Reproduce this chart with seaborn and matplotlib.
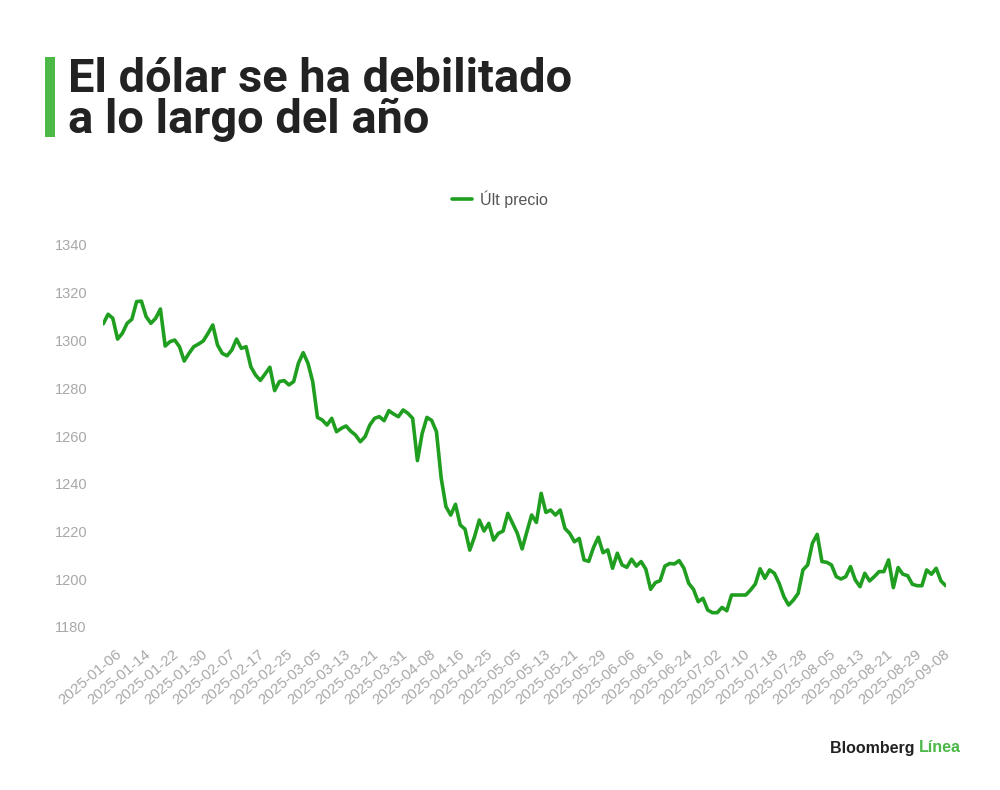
import matplotlib
matplotlib.use("Agg")
import matplotlib.pyplot as plt
import matplotlib.transforms as mtransforms
from matplotlib.patches import Rectangle
import seaborn as sns
import numpy as np
import pandas as pd

# === Data ===
title_lines = ["El dólar se ha debilitado", "a lo largo del año"]
series_name = "Últ precio"

# business days Jan 6 - Sep 11 2025, Good Friday missing
dates = pd.bdate_range("2025-01-06", "2025-09-11")
dates = dates[dates != pd.Timestamp("2025-04-18")]

prices = [
    1307.0, 1311.0, 1309.3, 1300.6, 1303.0, 1307.2, 1308.9, 1316.3, 1316.5, 1310.0,
    1307.2, 1309.3, 1313.2, 1297.7, 1299.5, 1300.2, 1297.4, 1291.4, 1294.6, 1297.4,
    1298.5, 1299.8, 1303.0, 1306.5, 1298.1, 1294.6, 1293.6, 1296.0, 1300.6, 1296.7,
    1297.4, 1289.0, 1285.5, 1283.3, 1286.0, 1288.8, 1279.0, 1282.8, 1283.2, 1281.4,
    1282.8, 1290.5, 1294.9, 1290.5, 1282.8, 1267.8, 1266.7, 1264.6, 1267.4, 1261.8,
    1263.2, 1264.2, 1262.0, 1260.4, 1257.6, 1259.7, 1264.6, 1267.4, 1268.1, 1266.4,
    1270.6, 1269.2, 1268.1, 1270.9, 1269.5, 1267.4, 1249.7, 1261.1, 1267.8, 1266.5,
    1261.8, 1242.3, 1230.4, 1226.9, 1231.4, 1222.7, 1221.0, 1212.2, 1217.8, 1224.8,
    1220.2, 1223.4, 1216.4, 1219.2, 1220.2, 1227.6, 1223.4, 1219.2, 1212.7, 1219.9,
    1226.9, 1223.8, 1236.0, 1228.0, 1229.0, 1226.9, 1229.0, 1221.3, 1219.2, 1215.7,
    1217.1, 1208.1, 1207.5, 1213.3, 1217.6, 1211.1, 1212.3, 1204.6, 1210.9, 1206.0,
    1205.0, 1208.4, 1205.5, 1207.4, 1204.2, 1195.8, 1198.6, 1199.4, 1205.5, 1206.6,
    1206.4, 1207.8, 1204.6, 1198.3, 1195.8, 1190.6, 1192.0, 1187.1, 1186.0, 1186.0,
    1188.2, 1186.8, 1193.4, 1193.4, 1193.4, 1193.4, 1195.5, 1198.0, 1204.4, 1200.4,
    1203.9, 1202.5, 1198.3, 1192.7, 1189.2, 1191.3, 1194.1, 1203.9, 1206.0, 1215.1,
    1218.8, 1207.4, 1207.1, 1206.0, 1201.1, 1200.1, 1201.1, 1205.3, 1199.7, 1196.9,
    1202.5, 1199.3, 1201.1, 1203.2, 1203.2, 1208.1, 1196.5, 1204.9, 1202.1, 1201.5,
    1197.9, 1197.3, 1197.3, 1203.9, 1202.1, 1204.6, 1199.3, 1197.3,
]
y_ticks = [1180, 1200, 1220, 1240, 1260, 1280, 1300, 1320, 1340]

df = pd.DataFrame({"pos": np.arange(len(prices)), "fecha": dates, "precio": prices})
label_step = 6
tick_pos = df["pos"][::label_step]
tick_labels = df["fecha"][::label_step].dt.strftime("%Y-%m-%d")

# === Style ===
sns.set_theme(style="white")
plt.rcParams["font.family"] = ["Liberation Sans", "DejaVu Sans"]

line_green = "#1f9e1f"
brand_green = "#4cb848"
tick_grey = "#a8a8a8"

fig = plt.figure(figsize=(10, 7.9), dpi=100)
ax = fig.add_axes([0.1033, 1 - 627 / 790, 0.8424, (627 - 245) / 790])

sns.lineplot(data=df, x="pos", y="precio", ax=ax, color=line_green,
             linewidth=2.6, label=series_name)

ax.set_xlim(0, len(prices) - 1)
ax.set_ylim(1180, 1340)
ax.set_xlabel("")
ax.set_ylabel("")
sns.despine(ax=ax, left=True, bottom=True)
ax.grid(False)

# y ticks: left aligned, light grey
ax.set_yticks(y_ticks)
ax.tick_params(axis="y", length=0, pad=34.8, labelsize=10.5, labelcolor=tick_grey)
for lbl in ax.get_yticklabels():
    lbl.set_horizontalalignment("left")

# x ticks: rotated dates, shifted like the reference
ax.set_xticks(tick_pos)
ax.set_xticklabels(tick_labels)
ax.tick_params(axis="x", length=0, pad=0, labelsize=10.8, labelcolor=tick_grey)
shift = mtransforms.ScaledTranslation(0.12, -0.20, fig.dpi_scale_trans)
for lbl in ax.get_xticklabels():
    lbl.set_rotation(40)
    lbl.set_horizontalalignment("right")
    lbl.set_verticalalignment("top")
    lbl.set_rotation_mode("anchor")
    lbl.set_transform(lbl.get_transform() + shift)

# === Legend ===
ax.legend(loc="center", bbox_to_anchor=(0.5, 1 - 199 / 790),
          bbox_transform=fig.transFigure, frameon=False, fontsize=11.5,
          handlelength=1.3, handletextpad=0.5, labelcolor="#555555")

# === Title with green bar ===
fig.add_artist(Rectangle((0.045, 1 - 137 / 790), 0.0095, 80 / 790,
                         transform=fig.transFigure, color=brand_green, lw=0))
for k, base_px in enumerate([92, 133]):
    fig.text(0.068, 1 - base_px / 790, title_lines[k], fontsize=33.8, fontweight="bold",
             color="#222222", family=["Roboto", "DejaVu Sans"], va="baseline")

# === Brand mark ===
t_linea = fig.text(0.961, 1 - 748 / 790, "Línea", fontsize=11.5, fontweight="semibold",
                   color=brand_green, ha="right", va="center")
ax.annotate("Bloomberg ", xy=(0, 0.5), xycoords=t_linea, ha="right", va="center",
            fontsize=11.5, fontweight="semibold", color="#222222")

fig.savefig("out.png", dpi=100)
plt.close(fig)
